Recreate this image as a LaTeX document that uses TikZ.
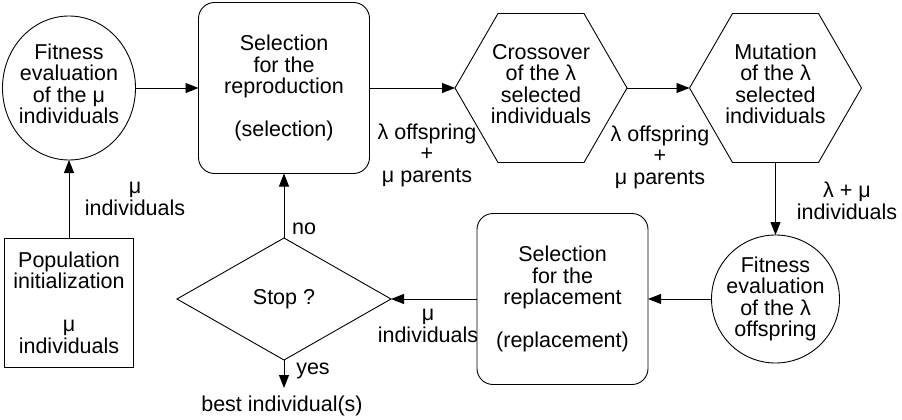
\documentclass[tikz,border=0pt]{standalone}
\usepackage{fontspec}
\setmainfont{Liberation Sans}
\usetikzlibrary{shapes.geometric,arrows.meta}
\begin{document}
\begin{tikzpicture}[x=1pt,y=-1pt,
  every node/.style={font=\fontsize{21.5}{21.5}\selectfont, align=center, inner sep=0pt, outer sep=0pt},
  shp/.style={draw, line width=0.9pt},
  roundbox/.style={shp, rectangle, rounded corners=16pt, minimum width=171pt, minimum height=171pt},
  hexa/.style={shp, regular polygon, regular polygon sides=6, minimum size=172pt},
  flow/.style={-{Triangle[length=13pt,width=10pt]}, line width=0.9pt}
]
\useasboundingbox (0,0) rectangle (902,420);

% --- shapes of the loop ---
\node[shp, ellipse, minimum width=133pt, minimum height=144pt,
      label={[yshift=4pt]center:{Fitness\\evaluation\\of the μ\\individuals}}] (fit1) at (69,88) {};
\node[roundbox] (box1) at (284,88) {Selection\\for the\\reproduction\\[21.5pt](selection)};
\node[hexa, label={[yshift=4pt]center:{Crossover\\of the λ\\selected\\individuals}}] (hex1) at (541,88) {};
\node[hexa, label={[yshift=4pt]center:{Mutation\\of the λ\\selected\\individuals}}] (hex2) at (775.5,88) {};
\node[shp, circle, minimum size=128pt,
      label={center:{Fitness\\evaluation\\of the λ\\offspring}}] (fit2) at (775.5,299) {};
\node[roundbox] (box2) at (562.5,299) {Selection\\for the\\replacement\\[21.5pt](replacement)};
\node[shp, diamond, minimum width=214pt, minimum height=122pt] (stop) at (284,299) {Stop ?};
\node[shp, rectangle, minimum width=129pt, minimum height=129pt] (pop) at (69,302.5)
  {Population\\initialization\\[21.5pt]μ\\individuals};
\coordinate (out) at (284,388);

% --- connectors ---
\draw[flow] (pop) -- (fit1);
\draw[flow] (fit1) -- (box1);
\draw[flow] (box1) -- (hex1.west);
\draw[flow] (hex1.east) -- (hex2.west);
\draw[flow] (hex2.south) -- (fit2);
\draw[flow] (fit2) -- (box2);
\draw[flow] (box2) -- (stop.east);
\draw[flow] (stop.north) -- (box1);
\draw[flow] (stop.south) -- (out);

% --- connector labels ---
\node (l1) at (135,199) {μ\\individuals};
\node (l2) at (427,155) {λ offspring\\+\\μ parents};
\node (l3) at (660,157) {λ offspring\\+\\μ parents};
\node (l4) at (847,201) {λ + μ\\individuals};
\node (l5) at (428,326) {μ\\individuals};
\node (l6) at (304,229) {no};
\node (l7) at (313,371) {yes};
\node (l8) at (282,406) {best individual(s)};
\end{tikzpicture}
\end{document}
